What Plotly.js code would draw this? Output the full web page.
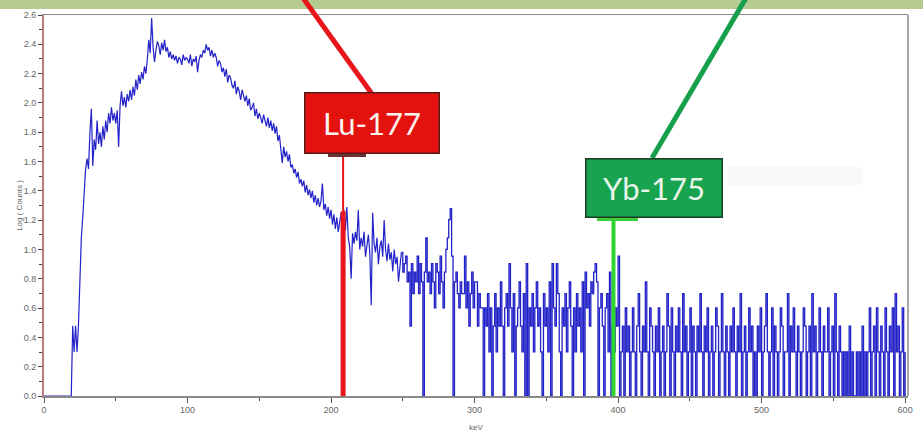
<!DOCTYPE html>
<html><head><meta charset="utf-8">
<script src="https://cdn.plot.ly/plotly-3.0.1.min.js"></script>
<style>html,body{margin:0;padding:0;background:#fff}#chart{width:923px;height:440px}</style>
</head><body><div id="chart"></div>
<script>
// Spectrum: 1 keV channels. Low-energy part given as log10(counts), higher-energy parts as raw counts.
const channelWidthKeV = 1;
const logCountsLow = [ // 0..249 keV
 0,0,0,0,0,0,0,0,0,0,
 0,0,0,0,0,0,0,0,0,0,
 0.48,0.30,0.48,0.30,0.48,0.78,1.08,1.22,1.40,1.55,
 1.62,1.55,1.80,1.96,1.57,1.75,1.68,1.88,1.72,1.80,
 1.70,1.84,1.75,1.88,1.80,1.93,1.86,1.97,1.88,1.93,
 1.86,1.95,1.70,1.98,2.08,1.98,2.04,1.97,2.06,2.01,
 2.09,2.02,2.11,2.05,2.16,2.09,2.19,2.13,2.21,2.16,
 2.25,2.20,2.30,2.43,2.34,2.58,2.38,2.28,2.36,2.42,
 2.39,2.33,2.41,2.36,2.43,2.35,2.38,2.31,2.35,2.30,
 2.33,2.29,2.32,2.27,2.31,2.30,2.26,2.33,2.29,2.31,
 2.30,2.27,2.33,2.25,2.30,2.28,2.32,2.21,2.29,2.33,
 2.31,2.36,2.34,2.40,2.36,2.38,2.32,2.36,2.31,2.34,
 2.31,2.25,2.29,2.27,2.21,2.24,2.18,2.23,2.14,2.19,
 2.17,2.12,2.10,2.15,2.06,2.11,2.08,2.02,2.09,2.04,
 2.01,2.05,1.98,2.03,1.95,1.97,2.00,1.91,1.96,1.89,
 1.93,1.90,1.86,1.92,1.87,1.84,1.90,1.83,1.88,1.81,
 1.86,1.79,1.84,1.74,1.78,1.66,1.59,1.70,1.63,1.67,
 1.60,1.65,1.56,1.58,1.52,1.55,1.49,1.53,1.45,1.48,
 1.43,1.47,1.39,1.44,1.37,1.41,1.35,1.40,1.32,1.37,
 1.30,1.35,1.29,1.33,1.45,1.27,1.31,1.23,1.29,1.21,
 1.27,1.17,1.24,1.14,1.22,1.12,1.20,1.25,1.11,1.27,
 1.13,1.29,1.08,1.02,0.80,1.11,1.04,1.12,1.06,1.27,
 1.00,1.08,1.02,1.12,0.95,1.05,1.10,0.98,0.62,1.25,
 1.04,0.98,1.08,0.90,1.02,1.06,0.95,1.20,1.00,0.92,
 1.04,0.93,0.98,0.85,1.00,0.90,0.95,0.78,0.88,0.98
];
const countsMid = [ // 250..399 keV
 7,8,9,6,7,3,8,5,7,6,
 9,5,8,6,1,7,12,6,7,5,
 8,6,4,8,7,5,9,6,4,7,
 10,12,16,19,9,0,6,7,5,4,
 6,5,5,9,4,6,3,5,7,4,
 6,6,3,5,4,4,1,4,3,5,
 2,4,0,3,5,2,4,3,6,3,
 1,4,5,3,8,4,2,5,0,3,
 4,6,3,2,5,1,8,0,4,3,
 5,2,4,6,3,4,2,0,5,3,
 4,2,6,1,8,4,3,8,5,2,
 0,4,3,5,2,4,6,3,1,4,
 2,5,3,4,2,6,0,7,4,5,
 3,6,5,7,8,6,1,4,5,3,
 0,4,5,2,7,1,3,2,4,3
];
const countsHigh = [ // 400..600 keV
 9,1,2,3,0,4,2,3,1,2,
 4,2,1,3,5,2,0,3,2,6,
 2,1,4,3,2,1,3,2,4,1,
 2,3,0,2,5,3,1,4,2,1,
 3,2,4,2,1,5,2,3,1,2,
 4,0,3,2,1,3,2,5,2,1,
 3,2,4,1,2,3,1,2,4,3,
 1,2,5,2,0,3,2,1,3,2,
 4,2,1,3,2,5,1,2,3,1,
 2,4,2,3,1,2,0,3,2,4,
 1,2,3,5,2,1,2,4,1,3,
 2,1,2,4,3,1,2,2,5,1,
 3,2,4,2,1,3,2,1,2,4,
 3,1,2,3,1,5,2,3,1,2,
 4,2,1,3,2,2,4,1,2,3,
 1,5,2,1,3,2,1,2,1,2,
 1,3,1,2,1,1,2,1,2,1,
 3,1,2,1,2,4,1,2,3,1,
 4,2,1,3,2,1,4,2,1,3,
 2,4,1,5,2,3,1,2,4,1,
 2
];
const markerLines = [ {name:'Lu-177', keV:208.4}, {name:'Yb-175', keV:396.8} ];
const xTickVals = [0,100,200,300,400,500,600];
const yTickVals = [0,0.2,0.4,0.6,0.8,1.0,1.2,1.4,1.6,1.8,2.0,2.2,2.4,2.6];

const toLog = c => (c > 1 ? Math.log10(c) : 0);
const yVals = logCountsLow.concat(countsMid.map(toLog), countsHigh.map(toLog));
const xVals = yVals.map((_, i) => i * channelWidthKeV);
const split = logCountsLow.length; // 250 keV: smooth part drawn as a line, sparse part as steps

// plot area in pixels: x 44..908, y 15..396
const L = 44, R = 908, T = 15, B = 396;
const px = x => (x - L) / (R - L);
const py = y => (B - y) / (B - T);

const traces = [
  {x: xVals.slice(0, split), y: yVals.slice(0, split), type: 'scatter', mode: 'lines',
   line: {color: '#2222c8', width: 1.2, shape: 'linear'}, hoverinfo: 'skip'},
  {x: xVals.slice(split - 1), y: yVals.slice(split - 1), type: 'scatter', mode: 'lines',
   line: {color: '#2222c8', width: 1.3, shape: 'hv'}, hoverinfo: 'skip'}
];

const shapes = [
  {type:'rect', xref:'paper', yref:'paper', x0:-0.1, x1:1.1, y0:py(9), y1:py(-5), fillcolor:'#b5cb8f', line:{width:0}, layer:'above'},
  {type:'line', xref:'paper', yref:'paper', x0:1, x1:1, y0:0, y1:1, line:{color:'#8a8a8a', width:1.5}},
  {type:'rect', xref:'paper', yref:'paper', x0:px(728), x1:px(862), y0:py(185), y1:py(167), fillcolor:'rgba(240,240,240,0.45)', line:{width:0}},
  {type:'line', xref:'x', yref:'y', x0:markerLines[0].keV, x1:markerLines[0].keV, y0:1.26, y1:1.65, line:{color:'#e8151b', width:2}, layer:'above'},
  {type:'line', xref:'x', yref:'y', x0:markerLines[0].keV, x1:markerLines[0].keV, y0:0, y1:1.26, line:{color:'#e8151b', width:5}, layer:'above'},
  {type:'line', xref:'x', yref:'y', x0:markerLines[1].keV, x1:markerLines[1].keV, y0:0, y1:1.22, line:{color:'#2fd62f', width:4}, layer:'above'},
  {type:'rect', xref:'paper', yref:'paper', x0:px(597), x1:px(638), y0:py(221), y1:py(215), fillcolor:'#3ccc3c', line:{width:0}, layer:'above'},
  {type:'rect', xref:'paper', yref:'paper', x0:px(328), x1:px(366), y0:py(157), y1:py(153), fillcolor:'#6a3434', line:{width:0}, layer:'above'},
  {type:'line', xref:'paper', yref:'paper', x0:px(303), y0:py(-2), x1:px(372), y1:py(94), line:{color:'#e8151b', width:5}, layer:'above'},
  {type:'line', xref:'paper', yref:'paper', x0:px(746), y0:py(-2), x1:px(652), y1:py(158), line:{color:'#16a04c', width:5}, layer:'above'}
];

const annotations = [
  {xref:'paper', yref:'paper', x:px(371.5), y:py(123.5), xanchor:'center', yanchor:'middle', showarrow:false,
   text:markerLines[0].name, font:{family:'Lato, "Open Sans", sans-serif', size:31, color:'#fff4f0'},
   bgcolor:'#e3120f', bordercolor:'#5a1a1a', borderwidth:1.5, borderpad:0, width:133, height:59},
  {xref:'paper', yref:'paper', x:px(653.5), y:py(187.5), xanchor:'center', yanchor:'middle', showarrow:false,
   text:markerLines[1].name, font:{family:'Lato, "Open Sans", sans-serif', size:31, color:'#e8f4ea'},
   bgcolor:'#18a34e', bordercolor:'#1a3a22', borderwidth:1.5, borderpad:0, width:135, height:57}
];

const tickFont = {family:'"Liberation Sans", Arial, sans-serif', size:9, color:'#666'};
const layout = {
  width: 923, height: 440,
  margin: {l: L, r: 923 - R, t: T, b: 440 - B},
  paper_bgcolor: '#ffffff', plot_bgcolor: '#ffffff',
  showlegend: false,
  xaxis: {
    range: [0, 602], tickvals: xTickVals, ticktext: xTickVals.map(String),
    ticks: 'outside', ticklen: 5, tickcolor: '#555', tickwidth: 1,
    minor: {dtick: 50, tick0: 0, ticks: 'outside', ticklen: 3, tickcolor: '#555'},
    showgrid: false, zeroline: false, showline: true, linecolor: '#8a8a8a', linewidth: 1.5, mirror: true,
    tickfont: tickFont,
    title: {text: 'keV', font: {family:'"Liberation Sans", Arial, sans-serif', size: 8, color: '#666'}, standoff: 10}
  },
  yaxis: {
    range: [0, 2.6], tickvals: yTickVals, ticktext: yTickVals.map(v => v.toFixed(1)),
    ticks: 'outside', ticklen: 4, tickcolor: '#444', tickwidth: 1,
    minor: {dtick: 0.1, tick0: 0, ticks: 'outside', ticklen: 3, tickcolor: '#444'},
    showgrid: false, zeroline: false, showline: true, linecolor: '#c07878', linewidth: 2, mirror: false,
    tickfont: tickFont,
    title: {text: 'Log ( Counts )', font: {family:'"Liberation Sans", Arial, sans-serif', size: 8, color: '#666'}, standoff: 0}
  },
  shapes: shapes,
  annotations: annotations
};

Plotly.newPlot('chart', traces, layout, {displayModeBar: false, staticPlot: true});
</script>
</body></html>
